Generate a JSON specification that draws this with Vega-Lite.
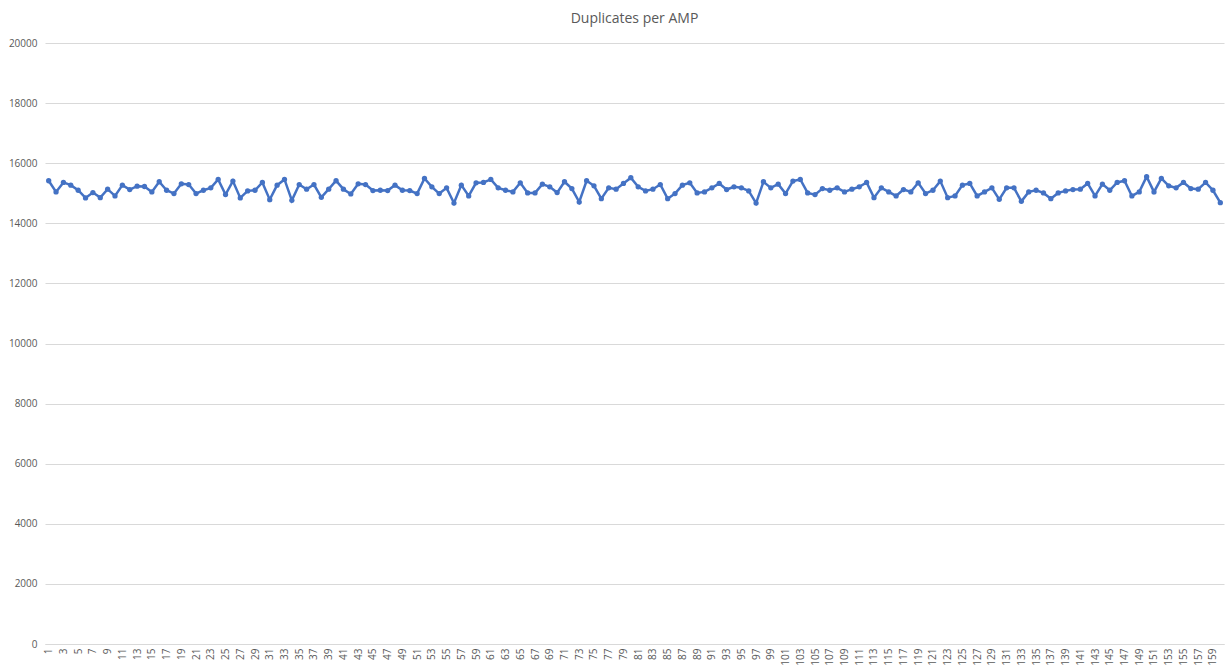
{
  "$schema": "https://vega.github.io/schema/vega-lite/v6.json",
  "width": 1230,
  "height": 672,
  "autosize": {"type": "fit", "contains": "padding"},
  "padding": {"left": 8, "top": 12, "right": 4, "bottom": 6},
  "background": "white",
  "title": {
    "text": "Duplicates per AMP",
    "fontSize": 14,
    "font": "Open Sans",
    "fontWeight": "normal",
    "color": "#595959",
    "offset": 12
  },
  "data": {
    "values": [
      {"amp": 1, "dups": 15416}, {"amp": 2, "dups": 15045}, {"amp": 3, "dups": 15360}, {"amp": 4, "dups": 15270},
      {"amp": 5, "dups": 15100}, {"amp": 6, "dups": 14843}, {"amp": 7, "dups": 15022}, {"amp": 8, "dups": 14854},
      {"amp": 9, "dups": 15135}, {"amp": 10, "dups": 14910}, {"amp": 11, "dups": 15270}, {"amp": 12, "dups": 15124},
      {"amp": 13, "dups": 15236}, {"amp": 14, "dups": 15225}, {"amp": 15, "dups": 15045}, {"amp": 16, "dups": 15382},
      {"amp": 17, "dups": 15100}, {"amp": 18, "dups": 14990}, {"amp": 19, "dups": 15315}, {"amp": 20, "dups": 15290},
      {"amp": 21, "dups": 14990}, {"amp": 22, "dups": 15100}, {"amp": 23, "dups": 15180}, {"amp": 24, "dups": 15460},
      {"amp": 25, "dups": 14955}, {"amp": 26, "dups": 15404}, {"amp": 27, "dups": 14843}, {"amp": 28, "dups": 15079},
      {"amp": 29, "dups": 15100}, {"amp": 30, "dups": 15360}, {"amp": 31, "dups": 14787}, {"amp": 32, "dups": 15270},
      {"amp": 33, "dups": 15460}, {"amp": 34, "dups": 14764}, {"amp": 35, "dups": 15290}, {"amp": 36, "dups": 15135},
      {"amp": 37, "dups": 15290}, {"amp": 38, "dups": 14866}, {"amp": 39, "dups": 15135}, {"amp": 40, "dups": 15416},
      {"amp": 41, "dups": 15135}, {"amp": 42, "dups": 14977}, {"amp": 43, "dups": 15315}, {"amp": 44, "dups": 15290},
      {"amp": 45, "dups": 15090}, {"amp": 46, "dups": 15100}, {"amp": 47, "dups": 15090}, {"amp": 48, "dups": 15270},
      {"amp": 49, "dups": 15100}, {"amp": 50, "dups": 15090}, {"amp": 51, "dups": 14990}, {"amp": 52, "dups": 15494},
      {"amp": 53, "dups": 15213}, {"amp": 54, "dups": 14990}, {"amp": 55, "dups": 15180}, {"amp": 56, "dups": 14674},
      {"amp": 57, "dups": 15270}, {"amp": 58, "dups": 14910}, {"amp": 59, "dups": 15348}, {"amp": 60, "dups": 15360},
      {"amp": 61, "dups": 15460}, {"amp": 62, "dups": 15180}, {"amp": 63, "dups": 15100}, {"amp": 64, "dups": 15045},
      {"amp": 65, "dups": 15348}, {"amp": 66, "dups": 15011}, {"amp": 67, "dups": 15011}, {"amp": 68, "dups": 15303},
      {"amp": 69, "dups": 15213}, {"amp": 70, "dups": 15022}, {"amp": 71, "dups": 15382}, {"amp": 72, "dups": 15157},
      {"amp": 73, "dups": 14708}, {"amp": 74, "dups": 15416}, {"amp": 75, "dups": 15247}, {"amp": 76, "dups": 14820},
      {"amp": 77, "dups": 15180}, {"amp": 78, "dups": 15135}, {"amp": 79, "dups": 15326}, {"amp": 80, "dups": 15517},
      {"amp": 81, "dups": 15213}, {"amp": 82, "dups": 15079}, {"amp": 83, "dups": 15135}, {"amp": 84, "dups": 15290},
      {"amp": 85, "dups": 14820}, {"amp": 86, "dups": 14990}, {"amp": 87, "dups": 15270}, {"amp": 88, "dups": 15348},
      {"amp": 89, "dups": 15011}, {"amp": 90, "dups": 15045}, {"amp": 91, "dups": 15180}, {"amp": 92, "dups": 15326},
      {"amp": 93, "dups": 15124}, {"amp": 94, "dups": 15213}, {"amp": 95, "dups": 15180}, {"amp": 96, "dups": 15079},
      {"amp": 97, "dups": 14674}, {"amp": 98, "dups": 15382}, {"amp": 99, "dups": 15180}, {"amp": 100, "dups": 15303},
      {"amp": 101, "dups": 14990}, {"amp": 102, "dups": 15404}, {"amp": 103, "dups": 15460}, {"amp": 104, "dups": 15011},
      {"amp": 105, "dups": 14955}, {"amp": 106, "dups": 15157}, {"amp": 107, "dups": 15100}, {"amp": 108, "dups": 15180},
      {"amp": 109, "dups": 15045}, {"amp": 110, "dups": 15135}, {"amp": 111, "dups": 15213}, {"amp": 112, "dups": 15360},
      {"amp": 113, "dups": 14854}, {"amp": 114, "dups": 15180}, {"amp": 115, "dups": 15045}, {"amp": 116, "dups": 14910},
      {"amp": 117, "dups": 15124}, {"amp": 118, "dups": 15045}, {"amp": 119, "dups": 15348}, {"amp": 120, "dups": 14990},
      {"amp": 121, "dups": 15100}, {"amp": 122, "dups": 15404}, {"amp": 123, "dups": 14854}, {"amp": 124, "dups": 14910},
      {"amp": 125, "dups": 15270}, {"amp": 126, "dups": 15326}, {"amp": 127, "dups": 14910}, {"amp": 128, "dups": 15045},
      {"amp": 129, "dups": 15180}, {"amp": 130, "dups": 14798}, {"amp": 131, "dups": 15180}, {"amp": 132, "dups": 15180},
      {"amp": 133, "dups": 14730}, {"amp": 134, "dups": 15045}, {"amp": 135, "dups": 15100}, {"amp": 136, "dups": 15011},
      {"amp": 137, "dups": 14820}, {"amp": 138, "dups": 15011}, {"amp": 139, "dups": 15079}, {"amp": 140, "dups": 15124},
      {"amp": 141, "dups": 15135}, {"amp": 142, "dups": 15326}, {"amp": 143, "dups": 14910}, {"amp": 144, "dups": 15303},
      {"amp": 145, "dups": 15100}, {"amp": 146, "dups": 15360}, {"amp": 147, "dups": 15416}, {"amp": 148, "dups": 14910},
      {"amp": 149, "dups": 15045}, {"amp": 150, "dups": 15551}, {"amp": 151, "dups": 15045}, {"amp": 152, "dups": 15494},
      {"amp": 153, "dups": 15247}, {"amp": 154, "dups": 15180}, {"amp": 155, "dups": 15360}, {"amp": 156, "dups": 15157},
      {"amp": 157, "dups": 15135}, {"amp": 158, "dups": 15360}, {"amp": 159, "dups": 15100}, {"amp": 160, "dups": 14685}
    ]
  },
  "mark": {
    "type": "line",
    "color": "#4472C4",
    "strokeWidth": 2.5,
    "point": {"filled": true, "size": 28, "color": "#4472C4"}
  },
  "encoding": {
    "x": {
      "field": "amp",
      "type": "ordinal",
      "sort": "ascending",
      "scale": {"type": "point", "padding": 0.5},
      "axis": {
        "title": null,
        "labelAngle": -90,
        "labelAlign": "right",
        "labelBaseline": "middle",
        "labelExpr": "datum.value % 2 == 1 ? datum.label : ''",
        "labelOverlap": false,
        "labelFontSize": 10,
        "labelFont": "Open Sans",
        "labelColor": "#595959",
        "labelPadding": 4,
        "ticks": false,
        "domainColor": "#d9d9d9",
        "grid": false
      }
    },
    "y": {
      "field": "dups",
      "type": "quantitative",
      "scale": {"domain": [0, 20000], "nice": false},
      "axis": {
        "title": null,
        "values": [0, 2000, 4000, 6000, 8000, 10000, 12000, 14000, 16000, 18000, 20000],
        "format": "d",
        "labelFontSize": 10,
        "labelFont": "Open Sans",
        "labelColor": "#595959",
        "labelPadding": 8,
        "ticks": false,
        "domain": false,
        "gridColor": "#d9d9d9",
        "gridWidth": 1
      }
    }
  },
  "config": {
    "view": {"stroke": null}
  }
}
